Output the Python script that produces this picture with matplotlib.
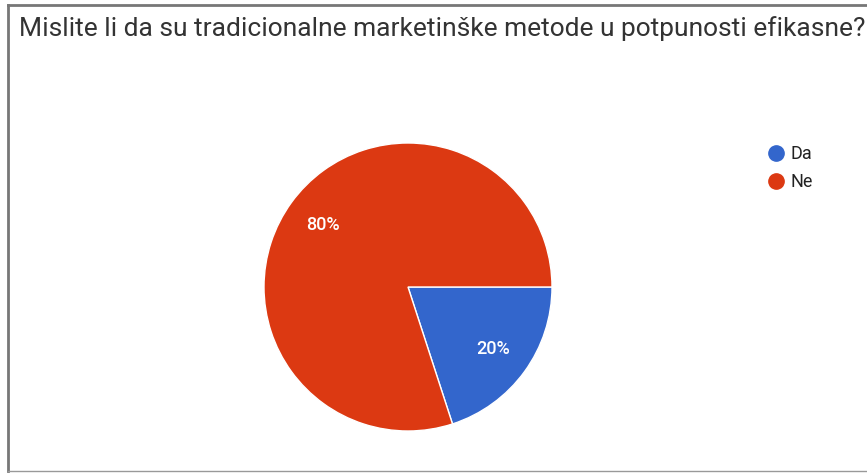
import matplotlib
matplotlib.use("Agg")
import matplotlib.pyplot as plt
from matplotlib.lines import Line2D

# data
title = "Mislite li da su tradicionalne marketinške metode u potpunosti efikasne?"
categories = ["Da", "Ne"]
shares = [20, 80]
colors = ["#3366CC", "#DC3912"]

plt.rcParams['font.family'] = ['Roboto', 'DejaVu Sans']

W, H = 867, 473
fig = plt.figure(figsize=(W / 100, H / 100), dpi=100)

# frame around the card (left, top, bottom only)
fig.add_artist(Line2D([8 / W, 8 / W], [1 - 5 / H, 1 - 471 / H], transform=fig.transFigure,
                      color="#777777", linewidth=2))
fig.add_artist(Line2D([8 / W, 1.0], [1 - 5 / H, 1 - 5 / H], transform=fig.transFigure,
                      color="#777777", linewidth=2))
fig.add_artist(Line2D([8 / W, 1.0], [1 - 471 / H, 1 - 471 / H], transform=fig.transFigure,
                      color="#999999", linewidth=1))

fig.text(19 / W, 1 - 29 / H, title, fontsize=19, color="#333333", va="center", ha="left")

# pie
cx, cy, r = 408, 287, 144
ax = fig.add_axes([(cx - r) / W, (H - cy - r) / H, 2 * r / W, 2 * r / H])
wedges, texts, autotexts = ax.pie(shares, colors=colors, startangle=0, counterclock=False,
                                  autopct='%d%%', pctdistance=0.73,
                                  wedgeprops=dict(edgecolor="white", linewidth=1))
for t in autotexts:
    t.set_color("white")
    t.set_fontsize(13)
    t.set_fontweight("medium")
ax.set_aspect("equal")
ax.set_xlim(-1, 1)
ax.set_ylim(-1, 1)
ax.axis("off")

# legend
handles = [Line2D([], [], marker='o', linestyle='', markersize=11, color=c) for c in colors]
fig.legend(handles, categories, loc='upper left', bbox_to_anchor=(746 / W, 1 - 129 / H),
           frameon=False, fontsize=13, handletextpad=0.05, labelspacing=0.55,
           handlelength=1.5, labelcolor="#222222")

plt.savefig("out.png", dpi=100)
